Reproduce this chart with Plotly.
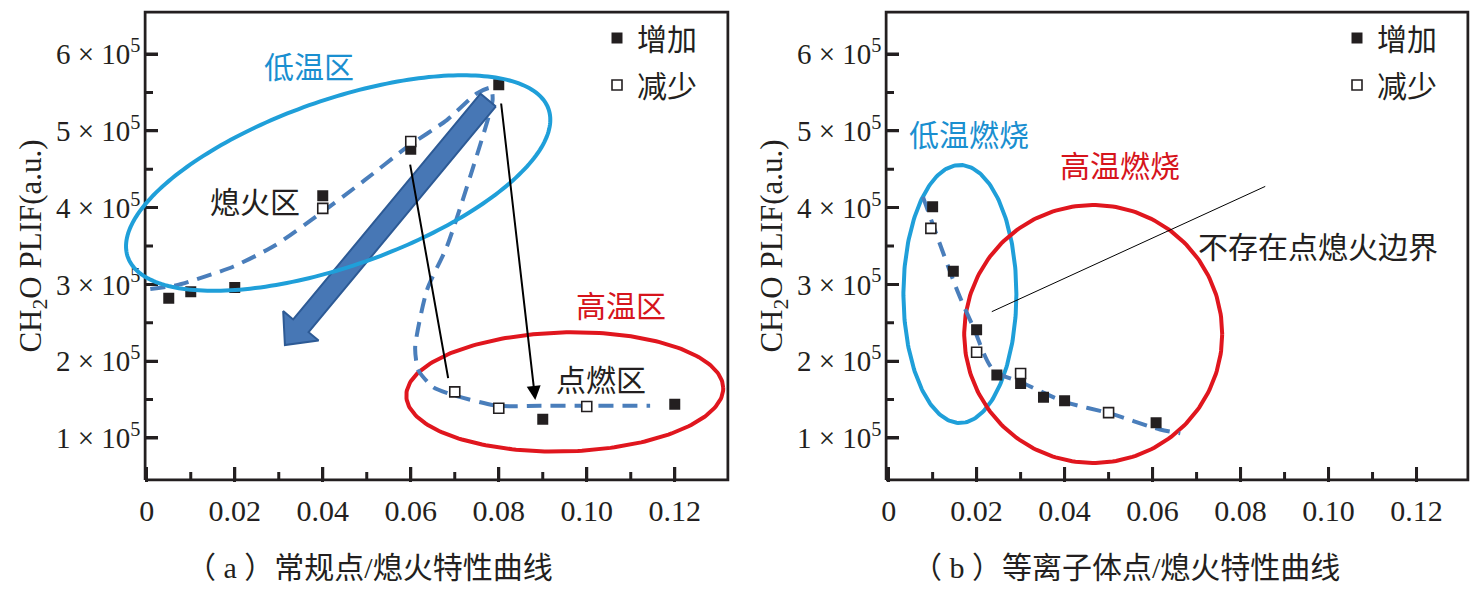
import numpy as np
import plotly.graph_objects as go

# ---------------- data ----------------
# (a) conventional ignition / extinction
a_inc_x = [0.005, 0.010, 0.020, 0.040, 0.060, 0.080, 0.090, 0.120]
a_inc_y = [2.82e5, 2.905e5, 2.96e5, 4.155e5, 4.76e5, 5.60e5, 1.243e5, 1.44e5]
a_dec_x = [0.040, 0.060, 0.070, 0.080, 0.100]
a_dec_y = [3.99e5, 4.86e5, 1.60e5, 1.387e5, 1.41e5]
a_curve_x = [0.0008, 0.0068, 0.0196, 0.0292, 0.0396, 0.0496, 0.0592, 0.0682, 0.0751, 0.0782,
             0.0786, 0.0742, 0.0682, 0.0637, 0.0610, 0.0617, 0.0651, 0.0696, 0.0796, 0.0894, 0.1144]
a_curve_y = [2.94e5, 2.99e5, 3.23e5, 3.51e5, 3.93e5, 4.36e5, 4.79e5, 5.14e5, 5.49e5, 5.56e5,
             5.40e5, 4.53e5, 3.49e5, 2.93e5, 2.18e5, 1.885e5, 1.66e5, 1.56e5, 1.42e5, 1.42e5, 1.42e5]

# (b) plasma ignition / extinction
b_inc_x = [0.010, 0.0147, 0.020, 0.0246, 0.030, 0.0352, 0.040, 0.0608]
b_inc_y = [4.01e5, 3.17e5, 2.41e5, 1.82e5, 1.71e5, 1.53e5, 1.486e5, 1.20e5]
b_dec_x = [0.0096, 0.020, 0.030, 0.050]
b_dec_y = [3.73e5, 2.116e5, 1.84e5, 1.33e5]
b_curve_x = [0.0078, 0.0158, 0.0192, 0.0238, 0.0305, 0.0401, 0.0503, 0.0617, 0.0663]
b_curve_y = [4.14e5, 2.89e5, 2.45e5, 1.885e5, 1.716e5, 1.47e5, 1.32e5, 1.11e5, 1.06e5]

# axis ticks
x_tickvals = [0, 0.02, 0.04, 0.06, 0.08, 0.10, 0.12]
x_ticktext = ["0", "0.02", "0.04", "0.06", "0.08", "0.10", "0.12"]
x_minorvals = [0.01, 0.03, 0.05, 0.07, 0.09, 0.11]
y_tickvals = [1e5, 2e5, 3e5, 4e5, 5e5, 6e5]
y_ticktext = ["%d × 10<sup>5</sup>" % k for k in range(1, 7)]
y_minorvals = [1.5e5, 2.5e5, 3.5e5, 4.5e5, 5.5e5]

legend_names = ["增加", "减少"]

# ---------------- layout geometry ----------------
W, H = 1480, 594
L1, R1, L2, R2, T, B = 145, 728, 886, 1468, 12, 480   # frame-line centres (px)
XR1 = [-0.0004, 0.1321]
XR2 = [-0.0006, 0.1317]
YR = [0.453e5, 6.547e5]
kx1 = (R1 - L1) / (XR1[1] - XR1[0])
kx2 = (R2 - L2) / (XR2[1] - XR2[0])
ky = (B - T) / (YR[1] - YR[0])
PAD = 1.5  # half frame width: plot area is enlarged so the frame is not clipped

INK = "#231f20"
CYAN = "#1f9fd9"
RED = "#e0161e"
DASHBLUE = "#4a7ebb"
SERIF = "Liberation Serif, Noto Sans CJK SC, serif"
MAJ, MIN = 13, 8  # tick lengths (px)


def ellipse(cx, cy, a_px, b_px, ang_deg, kx, n=240):
    t = np.linspace(0, 2 * np.pi, n)
    u, v = a_px * np.cos(t), b_px * np.sin(t)
    th = np.radians(ang_deg)
    px = u * np.cos(th) - v * np.sin(th)
    py = u * np.sin(th) + v * np.cos(th)
    return cx + px / kx, cy + py / ky


def block_arrow(x0, y0, x1, y1, bw, hw, hl, kx):
    p0 = np.array([x0 * kx, y0 * ky])
    p1 = np.array([x1 * kx, y1 * ky])
    d = p1 - p0
    u = d / np.linalg.norm(d)
    nvec = np.array([-u[1], u[0]])
    base = p1 - u * hl
    pts = [p0 + nvec * bw / 2, base + nvec * bw / 2, base + nvec * hw / 2, p1,
           base - nvec * hw / 2, base - nvec * bw / 2, p0 - nvec * bw / 2, p0 + nvec * bw / 2]
    pts = np.array(pts)
    return pts[:, 0] / kx, pts[:, 1] / ky


def xpix(x, left, xr, kx):
    return left + (x - xr[0]) * kx


def ypix(y):
    return B - (y - YR[0]) * ky


def to_paper_path(xs, ys, left, xr, kx):
    """map data coords of a panel to paper coords (for decorations drawn beyond the axes)"""
    pts = ["%.5f,%.5f" % (xpix(x, left, xr, kx) / W, 1 - ypix(y) / H) for x, y in zip(xs, ys)]
    return "M " + " L ".join(pts) + " Z"


fig = go.Figure()
shapes = []

# ---------- panel (a) ----------
ex, ey = ellipse(0.0435, 4.32e5, 223, 83, 19.4, kx1)
shapes.append(dict(type="path", path=to_paper_path(ex, ey, L1, XR1, kx1), xref="paper", yref="paper",
                   line=dict(color=CYAN, width=4), layer="above"))
ex, ey = ellipse(0.0950, 1.60e5, 158.5, 59.5, 1.5, kx1)
fig.add_trace(go.Scatter(x=ex, y=ey, mode="lines", line=dict(color=RED, width=4),
                         showlegend=False, hoverinfo="skip", xaxis="x", yaxis="y"))
fig.add_trace(go.Scatter(x=a_curve_x, y=a_curve_y, mode="lines",
                         line=dict(color=DASHBLUE, width=4, dash="15px,9px", shape="spline", smoothing=0.6),
                         showlegend=False, hoverinfo="skip", xaxis="x", yaxis="y"))
axx, axy = block_arrow(0.0776, 5.40e5, 0.0314, 2.21e5, 20, 46, 25, kx1)
fig.add_trace(go.Scatter(x=axx, y=axy, mode="lines", fill="toself", fillcolor="#4777b5",
                         line=dict(color="#2d5a95", width=2), showlegend=False, hoverinfo="skip",
                         xaxis="x", yaxis="y"))
fig.add_trace(go.Scatter(x=a_inc_x, y=a_inc_y, mode="markers", name=legend_names[0],
                         marker=dict(symbol="square", size=11, color=INK),
                         legend="legend", legendgroup="a_inc", xaxis="x", yaxis="y"))
fig.add_trace(go.Scatter(x=a_dec_x, y=a_dec_y, mode="markers", name=legend_names[1],
                         marker=dict(symbol="square", size=10, color="white", line=dict(color=INK, width=1.6)),
                         legend="legend", legendgroup="a_dec", xaxis="x", yaxis="y"))

# ---------- panel (b) ----------
ex, ey = ellipse(0.0162, 2.875e5, 56.5, 129, 0, kx2)
fig.add_trace(go.Scatter(x=ex, y=ey, mode="lines", line=dict(color=CYAN, width=4),
                         showlegend=False, hoverinfo="skip", xaxis="x2", yaxis="y2"))
ex, ey = ellipse(0.0465, 2.354e5, 129, 129, 0, kx2)
fig.add_trace(go.Scatter(x=ex, y=ey, mode="lines", line=dict(color=RED, width=4),
                         showlegend=False, hoverinfo="skip", xaxis="x2", yaxis="y2"))
fig.add_trace(go.Scatter(x=b_curve_x, y=b_curve_y, mode="lines",
                         line=dict(color=DASHBLUE, width=4, dash="15px,9px", shape="spline", smoothing=0.8),
                         showlegend=False, hoverinfo="skip", xaxis="x2", yaxis="y2"))
fig.add_trace(go.Scatter(x=b_inc_x, y=b_inc_y, mode="markers", name=legend_names[0],
                         marker=dict(symbol="square", size=11, color=INK),
                         legend="legend2", legendgroup="b_inc", xaxis="x2", yaxis="y2"))
fig.add_trace(go.Scatter(x=b_dec_x, y=b_dec_y, mode="markers", name=legend_names[1],
                         marker=dict(symbol="square", size=10, color="white", line=dict(color=INK, width=1.6)),
                         legend="legend2", legendgroup="b_dec", xaxis="x2", yaxis="y2"))

# ---------- frame and inside minor/major ticks, drawn on each panel's own scales ----------
for xa, ya, xr, kx in (("x", "y", XR1, kx1), ("x2", "y2", XR2, kx2)):
    fx = [xr[0], xr[1], xr[1], xr[0], xr[0]]
    fy = [YR[0], YR[0], YR[1], YR[1], YR[0]]
    fig.add_trace(go.Scatter(x=fx, y=fy, mode="lines", line=dict(color=INK, width=3),
                             showlegend=False, hoverinfo="skip", xaxis=xa, yaxis=ya))
    tx, ty = [], []
    for vals, ln in ((x_tickvals, MAJ), (x_minorvals, MIN)):
        for v in vals:
            if v <= 0:
                continue
            tx += [v, v, None]
            ty += [YR[0], YR[0] + ln / ky, None]
    for vals, ln in ((y_tickvals, MAJ), (y_minorvals, MIN)):
        for v in vals:
            tx += [xr[0], xr[0] + ln / kx, None]
            ty += [v, v, None]
    fig.add_trace(go.Scatter(x=tx, y=ty, mode="lines", line=dict(color=INK, width=3),
                             showlegend=False, hoverinfo="skip", xaxis=xa, yaxis=ya))


# ---------- axes ----------
def xaxis_style(left, right, rng, kx, anchor):
    return dict(domain=[(left - PAD) / W, (right + PAD) / W],
                range=[rng[0] - PAD / kx, rng[1] + PAD / kx], anchor=anchor,
                showline=False, ticks="inside", ticklen=MAJ + PAD, tickwidth=3, tickcolor=INK,
                tickmode="array", tickvals=x_tickvals, ticktext=x_ticktext,
                showgrid=False, zeroline=False, ticklabelstandoff=8,
                tickfont=dict(family=SERIF, size=30, color=INK))


def yaxis_style(anchor):
    return dict(domain=[1 - (B + PAD) / H, 1 - (T - PAD) / H],
                range=[YR[0] - PAD / ky, YR[1] + PAD / ky], anchor=anchor,
                showline=False, ticks="inside", ticklen=MAJ + PAD, tickwidth=3, tickcolor=INK,
                tickmode="array", tickvals=y_tickvals, ticktext=y_ticktext,
                showgrid=False, zeroline=False, ticklabelstandoff=2,
                tickfont=dict(family=SERIF, size=29, color=INK),
                title=dict(text="CH<sub>2</sub>O PLIF(a.u.)", standoff=5,
                           font=dict(family=SERIF, size=31, color=INK)))


def legend_style(xpx):
    return dict(x=xpx / W, y=1 - 12 / H, xanchor="left", yanchor="top",
                font=dict(family=SERIF, size=30, color=INK), bgcolor="rgba(0,0,0,0)",
                tracegroupgap=5, itemwidth=30)


annotations = []


def txt(text, x, y, xref, yref, color, size=30):
    annotations.append(dict(text=text, x=x, y=y, xref=xref, yref=yref, showarrow=False,
                            font=dict(family=SERIF, size=size, color=color),
                            xanchor="center", yanchor="middle"))


txt("低温区", 0.0369, 5.83e5, "x", "y", "#1a8fd0")
txt("熄火区", 0.0246, 4.06e5, "x", "y", INK)
txt("高温区", 0.1078, 2.706e5, "x", "y", "#d6141c")
txt("点燃区", 0.1032, 1.755e5, "x", "y", INK)
txt("低温燃烧", 0.0182, 4.945e5, "x2", "y2", "#1a8fd0")
txt("高温燃烧", 0.0527, 4.53e5, "x2", "y2", "#d6141c")
txt("不存在点熄火边界", 0.0977, 3.474e5, "x2", "y2", INK)
txt("（ a ）常规点/熄火特性曲线", 369 / W, 1 - 567 / H, "paper", "paper", INK, 30)
txt("（ b ）等离子体点/熄火特性曲线", 1126 / W, 1 - 567 / H, "paper", "paper", INK, 30)

# thin black arrows (panel a)
annotations.append(dict(x=0.0685, y=1.78e5, ax=0.0598, ay=4.58e5, xref="x", yref="y",
                        axref="x", ayref="y", showarrow=True, arrowhead=0, arrowwidth=2,
                        arrowcolor="black", text=""))
annotations.append(dict(x=0.0883, y=1.495e5, ax=0.0805, ay=5.375e5, xref="x", yref="y",
                        axref="x", ayref="y", showarrow=True, arrowhead=2, arrowsize=1.4,
                        arrowwidth=2, arrowcolor="black", text=""))
# thin pointer line (panel b)
annotations.append(dict(x=0.02345, y=2.645e5, ax=0.08595, ay=4.285e5, xref="x2", yref="y2",
                        axref="x2", ayref="y2", showarrow=True, arrowhead=0, arrowwidth=1,
                        arrowcolor="black", text=""))

fig.update_layout(
    template="none",
    width=W, height=H, margin=dict(l=0, r=0, t=0, b=0, autoexpand=False),
    paper_bgcolor="white", plot_bgcolor="white",
    xaxis=xaxis_style(L1, R1, XR1, kx1, "y"),
    yaxis=yaxis_style("x"),
    xaxis2=xaxis_style(L2, R2, XR2, kx2, "y2"),
    yaxis2=yaxis_style("x2"),
    legend=legend_style(597),
    legend2=legend_style(1337),
    annotations=annotations,
    shapes=shapes,
    showlegend=True,
)

fig.write_html("out.html", config={"displayModeBar": False},
               post_script="document.body.style.margin='0px';")
